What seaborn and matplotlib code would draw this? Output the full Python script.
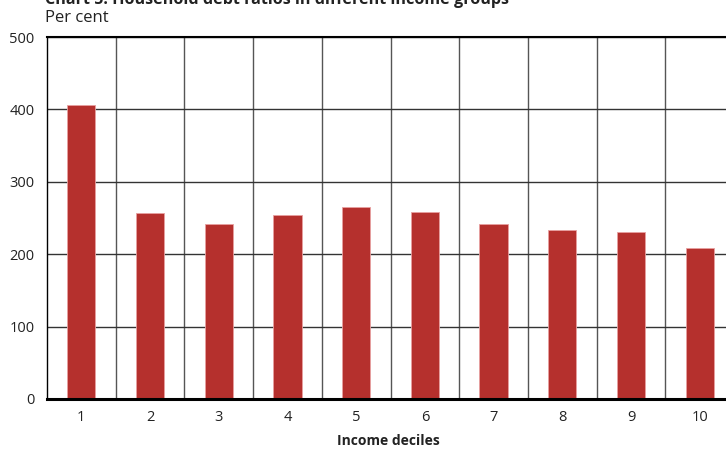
import matplotlib
matplotlib.use("Agg")
import matplotlib.pyplot as plt
import seaborn as sns
import pandas as pd
import numpy as np
from matplotlib.ticker import FixedLocator

deciles = ["1", "2", "3", "4", "5", "6", "7", "8", "9", "10"]
debt_ratio = [406, 257, 242, 254, 265, 258, 242, 234, 231, 208]
y_ticks = [0, 100, 200, 300, 400, 500]

sns.set_theme(style="white")
plt.rcParams['font.family'] = ['Open Sans', 'DejaVu Sans']

df = pd.DataFrame({"decile": deciles, "ratio": debt_ratio})

fig = plt.figure(figsize=(7.26, 4.5), dpi=100)
W, H = 726, 450
ax = fig.add_axes([47 / W, (H - 399) / H, (734 - 47) / W, (399 - 37) / H])

sns.barplot(data=df, x="decile", y="ratio", color="#B5302D", width=0.41,
            saturation=1, edgecolor="#E8A0A0", linewidth=0.6, ax=ax, zorder=3)

ax.set_xlim(-0.5, 9.5)
ax.set_ylim(0, 500)
ax.set_yticks(y_ticks)
ax.xaxis.set_minor_locator(FixedLocator(np.arange(0.5, 9.5, 1.0)))
ax.grid(axis="y", which="major", color="#333333", linewidth=1.0, zorder=0)
ax.grid(axis="x", which="minor", color="#555555", linewidth=1.0, zorder=0)
ax.grid(axis="x", which="major", visible=False)
ax.set_axisbelow(True)

for side in ["left", "top", "right"]:
    ax.spines[side].set_visible(True)
    ax.spines[side].set_color("black")
    ax.spines[side].set_linewidth(1.0)
ax.spines["top"].set_linewidth(1.5)
ax.spines["bottom"].set_color("black")
ax.spines["bottom"].set_linewidth(2.2)
ax.spines["bottom"].set_zorder(5)

ax.tick_params(axis="both", which="both", length=0, labelsize=10.5, colors="#222222")
ax.tick_params(axis="y", pad=9)
ax.tick_params(axis="x", pad=8)

ax.set_ylabel("")
ax.set_xlabel("Income deciles", fontsize=10, fontweight="bold", color="#222222")
ax.xaxis.label.set_va("center")
ax.xaxis.set_label_coords((388 - 47) / (734 - 47), -(441 - 399) / (399 - 37))

fig.text(45 / W, 1 - 18 / H, "Per cent", fontsize=12, color="#222222", va="center", ha="left")
fig.text(45 / W, 1 - 0 / H, "Chart 5. Household debt ratios in different income groups",
         fontsize=11.6, fontweight="bold", color="#222222", va="center", ha="left")

fig.savefig("out.png", dpi=100)
